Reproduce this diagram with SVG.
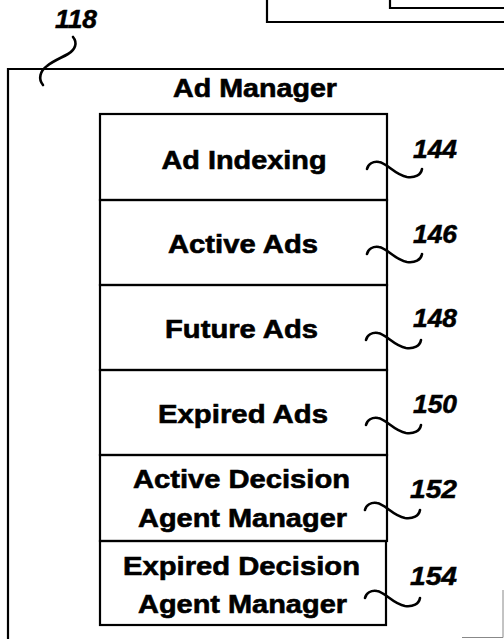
<svg xmlns="http://www.w3.org/2000/svg" width="504" height="639" viewBox="0 0 504 639">
<style>
.ln{fill:none;stroke:#000;stroke-width:2.2}
.sq{fill:none;stroke:#000;stroke-width:2.6;stroke-linecap:round}
.t{font-family:"Liberation Sans",Arial,sans-serif;font-weight:bold;font-size:26px;fill:#000;stroke:#000;stroke-width:0.6;text-anchor:middle}
.n{font-family:"Liberation Sans",Arial,sans-serif;font-weight:bold;font-style:italic;font-size:25px;fill:#000;stroke:#000;stroke-width:0.5}
</style>
<defs>
<path id="sqg" d="M0,0 C1,-5 6,-8 12,-7 C20,-6 28,6 40,8 C48,9 54,6 55,0"/>
</defs>
<rect width="504" height="639" fill="#fff"/>
<g id="top-boxes">
<path class="ln" d="M267,-5 V22 H506"/>
<path class="ln" d="M390,-5 V8 H506"/>
</g>
<g id="corner">
<path d="M462,637.5 H503 V590" fill="none" stroke="#888" stroke-width="1"/>
</g>
<g id="n118">
<path class="ln" d="M8,641 V69 H506"/>
<text class="t" x="255" y="97" textLength="164" lengthAdjust="spacingAndGlyphs">Ad Manager</text>
</g>
<g id="n144">
<rect class="ln" x="100" y="114" width="287" height="86"/>
<text class="t" x="244" y="169" textLength="165" lengthAdjust="spacingAndGlyphs">Ad Indexing</text>
</g>
<g id="n146">
<rect class="ln" x="100" y="200" width="287" height="85"/>
<text class="t" x="243" y="253" textLength="150" lengthAdjust="spacingAndGlyphs">Active Ads</text>
</g>
<g id="n148">
<rect class="ln" x="100" y="285" width="287" height="85"/>
<text class="t" x="241.5" y="338" textLength="153" lengthAdjust="spacingAndGlyphs">Future Ads</text>
</g>
<g id="n150">
<rect class="ln" x="100" y="370" width="287" height="85"/>
<text class="t" x="243" y="423" textLength="170" lengthAdjust="spacingAndGlyphs">Expired Ads</text>
</g>
<g id="n152">
<rect class="ln" x="100" y="455" width="287" height="86"/>
<text class="t" x="241.5" y="488" textLength="217" lengthAdjust="spacingAndGlyphs">Active Decision</text>
<text class="t" x="242.5" y="527" textLength="209" lengthAdjust="spacingAndGlyphs">Agent Manager</text>
</g>
<g id="n154">
<rect class="ln" x="100" y="541" width="286" height="84"/>
<text class="t" x="241.5" y="575" textLength="237" lengthAdjust="spacingAndGlyphs">Expired Decision</text>
<text class="t" x="242.5" y="613" textLength="209" lengthAdjust="spacingAndGlyphs">Agent Manager</text>
</g>
<g id="connectors">
<path class="sq" d="M73,37 C78,43 75,50 68,54 C61,58 53,61 47,66 C40,71 38,79 43,85"/>
<use href="#sqg" class="sq" x="367" y="169"/>
<use href="#sqg" class="sq" x="367" y="254"/>
<use href="#sqg" class="sq" x="366" y="340"/>
<use href="#sqg" class="sq" x="366" y="425"/>
<use href="#sqg" class="sq" x="365" y="510"/>
<use href="#sqg" class="sq" x="365" y="598"/>
</g>
<g id="labels">
<text class="n" x="55" y="28" textLength="42" lengthAdjust="spacingAndGlyphs">118</text>
<text class="n" x="413" y="158" textLength="44" lengthAdjust="spacingAndGlyphs">144</text>
<text class="n" x="413" y="243" textLength="44" lengthAdjust="spacingAndGlyphs">146</text>
<text class="n" x="413" y="327" textLength="44" lengthAdjust="spacingAndGlyphs">148</text>
<text class="n" x="413" y="413" textLength="44" lengthAdjust="spacingAndGlyphs">150</text>
<text class="n" x="410" y="498" textLength="47" lengthAdjust="spacingAndGlyphs">152</text>
<text class="n" x="410" y="585" textLength="47" lengthAdjust="spacingAndGlyphs">154</text>
</g>
</svg>
